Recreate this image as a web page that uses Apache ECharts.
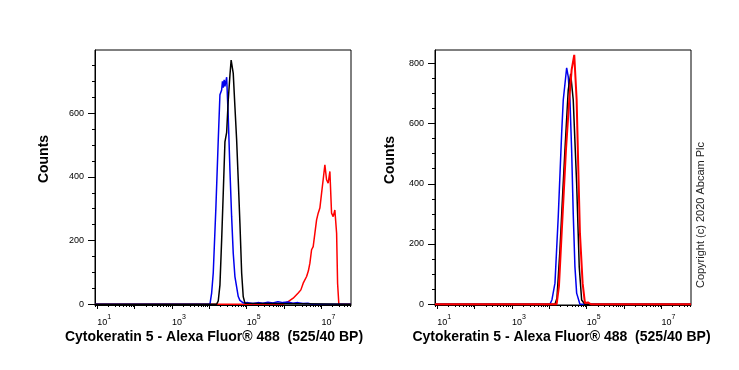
<!DOCTYPE html>
<html><head><meta charset="utf-8">
<script src="https://cdn.jsdelivr.net/npm/echarts@6/dist/echarts.min.js"></script>
<style>html,body{margin:0;padding:0;background:#fff}#c{width:739px;height:370px}</style>
</head><body><div id="c"></div>
<script>
// x values are log10(fluorescence intensity); y values are event counts
const leftRedLog   = [0.94, 5.968, 6.021, 6.110, 6.243, 6.377, 6.449, 6.511, 6.602, 6.650, 6.690, 6.735, 6.778, 6.824, 6.869, 6.912, 6.957, 7.003, 7.045, 7.091, 7.136, 7.179, 7.225, 7.270, 7.313, 7.358, 7.405, 7.431, 7.465, 7.79];
const leftRedCnt   = [0,    0,     3,     8,     19,    35,    45,    66,    87,    105,   129,   171,   181,   223,   265,   286,   302,   349,   391,   438,   391,   380,   417,   286,   275,   296,   223,   66,    0,     0];
const leftBlueLog  = [0.94, 4.016, 4.061, 4.104, 4.176, 4.238, 4.283, 4.329, 4.350, 4.372, 4.396, 4.417, 4.463, 4.484, 4.505, 4.551, 4.596, 4.639, 4.684, 4.773, 4.818, 4.906, 5.032, 5.166, 5.299, 5.433, 5.567, 5.701, 5.834, 5.968, 6.102, 6.235, 6.369, 6.503, 6.636, 6.743, 7.79];
const leftBlueCnt  = [0,    0,     35,    98,    307,   516,   658,   673,   700,   680,   705,   684,   713,   650,   590,   420,   275,   160,   87,    24,    12,    4,     5,     2,     5,     3,     6,     4,     8,     5,     7,     3,     5,     2,     3,     0,     0];
const leftBlackLog = [0.94, 4.195, 4.238, 4.283, 4.329, 4.372, 4.417, 4.463, 4.505, 4.551, 4.583, 4.639, 4.684, 4.730, 4.773, 4.818, 4.864, 4.906, 4.952, 5.005, 7.79];
const leftBlackCnt = [0,    0,     10,    60,    202,   350,   510,   540,   640,   720,   767,   725,   620,   516,   390,   254,   98,    24,    3,     0,     0];

const rightBlueLog  = [0.94, 4.016, 4.070, 4.150, 4.238, 4.329, 4.372, 4.463, 4.505, 4.551, 4.596, 4.639, 4.684, 4.730, 4.818, 7.79];
const rightBlueCnt  = [0,    0,     15,    70,    291,   568,   678,   785,   756,   678,   512,   300,   125,   37,    0,     0];
const rightBlackLog = [0.94, 4.150, 4.203, 4.283, 4.350, 4.417, 4.505, 4.570, 4.639, 4.730, 4.799, 4.864, 4.952, 7.79];
const rightBlackCnt = [0,    0,     20,    180,   350,   512,   711,   765,   678,   402,   125,   14,    0,     0];
const rightRedLog   = [0.94, 4.195, 4.257, 4.329, 4.444, 4.532, 4.596, 4.666, 4.730, 4.773, 4.818, 4.890, 4.952, 5.032, 5.112, 7.79];
const rightRedCnt   = [0,    0,     60,    236,   512,   678,   778,   828,   678,   457,   236,   70,    4,     6,     0,     0];

const xLabelDecades = [1, 3, 5, 7];
const xMajorDecades = [1, 2, 3, 4, 5, 6, 7];
const leftYLabels  = [0, 200, 400, 600];
const rightYLabels = [0, 200, 400, 600, 800];
const xTitle = 'Cytokeratin 5 - Alexa Fluor\u00AE 488  (525/40 BP)';
const yTitle = 'Counts';
const copyright = 'Copyright (c) 2020 Abcam Plc';

const X_MIN = 0.94, X_MAX = 7.79;
const xMinor = [];
for (let n = 0; n <= 7; n++) for (let k = 2; k <= 9; k++) {
  const v = n + Math.log10(k);
  if (v > X_MIN && v < X_MAX) xMinor.push(v);
}
function yMinor(max) { const a = []; for (let v = 50; v < max; v += 50) if (v % 200) a.push(v); return a; }

const FONT = '"Liberation Sans", Arial, sans-serif';
const grids = [
  {left: 95, top: 50, width: 256, height: 255, show: true, borderColor: '#000', borderWidth: 1},
  {left: 435, top: 50, width: 256, height: 255, show: true, borderColor: '#000', borderWidth: 1}
];
function xAxes(g) {
  return [{
    gridIndex: g, type: 'value', min: X_MIN, max: X_MAX, position: 'bottom',
    axisLine: {show: true, onZero: false, lineStyle: {color: '#000', width: 1}},
    axisTick: {show: true, length: 4, customValues: xMajorDecades, lineStyle: {color: '#000', width: 1}},
    splitLine: {show: false},
    axisLabel: {
      customValues: xLabelDecades, margin: 9, align: 'left',
      formatter: v => '{b|10}{s|' + Math.round(v) + '}',
      rich: {
        b: {fontSize: 9, fontFamily: FONT, color: '#000', lineHeight: 13, verticalAlign: 'bottom'},
        s: {fontSize: 7, fontFamily: FONT, color: '#000', lineHeight: 8, verticalAlign: 'top'}
      }
    }
  }, {
    gridIndex: g, type: 'value', min: X_MIN, max: X_MAX, position: 'bottom',
    axisLine: {show: false, onZero: false},
    axisTick: {show: true, length: 2, customValues: xMinor, lineStyle: {color: '#000', width: 1}},
    axisLabel: {show: false}, splitLine: {show: false}
  }];
}
function yAxes(g, max, labels) {
  return [{
    gridIndex: g, type: 'value', min: -2.5, max: max, position: 'left',
    axisLine: {show: true, onZero: false, lineStyle: {color: '#000', width: 1}},
    axisTick: {show: true, length: 7, customValues: labels, lineStyle: {color: '#000', width: 1}},
    axisLabel: {customValues: labels, margin: 11, fontSize: 9, fontFamily: FONT, color: '#000'},
    splitLine: {show: false}
  }, {
    gridIndex: g, type: 'value', min: -2.5, max: max, position: 'left',
    axisLine: {show: false, onZero: false},
    axisTick: {show: true, length: 3, customValues: yMinor(max), lineStyle: {color: '#000', width: 1}},
    axisLabel: {show: false}, splitLine: {show: false}
  }];
}
function zip(a, b) { return a.map((v, i) => [v, b[i]]); }
function line(name, xs, ys, color, g, w) {
  return {
    name, type: 'line', xAxisIndex: g * 2, yAxisIndex: g * 2, data: zip(xs, ys),
    showSymbol: false, symbol: 'none', lineStyle: {color, width: w || 1.5}, itemStyle: {color},
    animation: false, clip: true
  };
}

const chart = echarts.init(document.getElementById('c'), null, {renderer: 'canvas'});
chart.setOption({
  backgroundColor: '#fff',
  animation: false,
  grid: grids,
  xAxis: [...xAxes(0), ...xAxes(1)],
  yAxis: [...yAxes(0, 798.5, leftYLabels), ...yAxes(1, 844, rightYLabels)],
  series: [
    line('Left red', leftRedLog, leftRedCnt, '#ff0000', 0),
    line('Left blue', leftBlueLog, leftBlueCnt, '#0000ee', 0),
    line('Left black', leftBlackLog, leftBlackCnt, '#000000', 0),
    line('Right blue', rightBlueLog, rightBlueCnt, '#0000ee', 1),
    line('Right black', rightBlackLog, rightBlackCnt, '#000000', 1),
    line('Right red', rightRedLog, rightRedCnt, '#ff0000', 1, 2)
  ],
  graphic: [
    {type: 'text', x: 44, y: 159, rotation: Math.PI / 2, style: {text: yTitle, font: 'bold 14px ' + FONT, fill: '#000', textAlign: 'center', textVerticalAlign: 'middle'}},
    {type: 'text', x: 390, y: 160, rotation: Math.PI / 2, style: {text: yTitle, font: 'bold 14px ' + FONT, fill: '#000', textAlign: 'center', textVerticalAlign: 'middle'}},
    {type: 'text', x: 214, y: 337, style: {text: xTitle, font: 'bold 14px ' + FONT, fill: '#000', textAlign: 'center', textVerticalAlign: 'middle'}},
    {type: 'text', x: 561.5, y: 337, style: {text: xTitle, font: 'bold 14px ' + FONT, fill: '#000', textAlign: 'center', textVerticalAlign: 'middle'}},
    {type: 'text', x: 701, y: 215, rotation: Math.PI / 2, style: {text: copyright, font: '11px ' + FONT, fill: '#222', textAlign: 'center', textVerticalAlign: 'middle'}}
  ]
});
</script></body></html>
